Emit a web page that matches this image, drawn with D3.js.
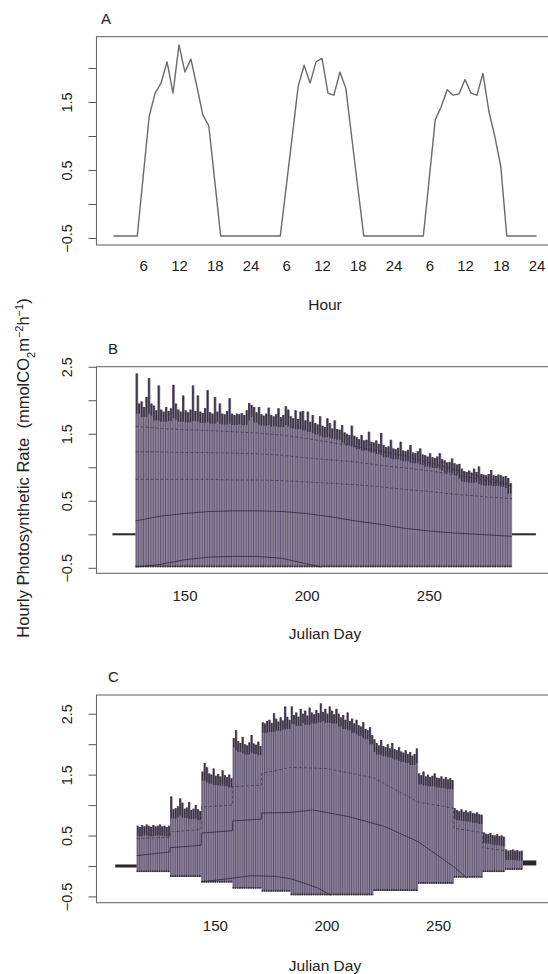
<!DOCTYPE html>
<html>
<head>
<meta charset="utf-8">
<script src="https://cdn.jsdelivr.net/npm/d3@7"></script>
<style>
  body { margin: 0; background: #fff; }
  svg { display: block; font-family: "Liberation Sans", Arial, sans-serif; }
</style>
</head>
<body>
<svg id="chart" width="548" height="974"></svg>
<script>
// Panel A: three days of hourly rate (hour 1..72)
const aRate = [
  -0.47, -0.47, -0.47, -0.47, -0.47, 0.41, 1.29, 1.63, 1.78, 2.09, 1.63, 2.34,
  1.94, 2.13, 1.73, 1.31, 1.15, 0.34, -0.47, -0.47, -0.47, -0.47, -0.47, -0.47,
  -0.47, -0.47, -0.47, -0.47, -0.47, 0.26, 0.99, 1.73, 2.04, 1.78, 2.09, 2.14,
  1.63, 1.60, 1.94, 1.70, 0.97, 0.25, -0.47, -0.47, -0.47, -0.47, -0.47, -0.47,
  -0.47, -0.47, -0.47, -0.47, -0.47, 0.38, 1.24, 1.43, 1.68, 1.60, 1.62, 1.83,
  1.63, 1.60, 1.92, 1.36, 0.99, 0.55, -0.47, -0.47, -0.47, -0.47, -0.47, -0.47
];
const aTickHours = [6, 12, 18, 24, 30, 36, 42, 48, 54, 60, 66, 72];
const aTickLabels = ["6", "12", "18", "24", "6", "12", "18", "24", "6", "12", "18", "24"];

// Panel B: daily peak rate, days 130..283, night value, off-season stretches
const bFirstDay = 130;
const bPeak = [
  2.40, 1.95, 1.98, 1.90, 2.05, 2.33, 1.95, 1.92, 1.85, 2.22,
  1.86, 1.83, 1.90, 1.84, 1.88, 2.23, 1.95, 1.86, 1.83, 2.07,
  1.85, 1.82, 1.86, 2.22, 1.84, 2.07, 1.83, 1.81, 1.88, 2.15,
  1.82, 1.80, 2.05, 1.83, 1.95, 1.80, 1.79, 1.84, 2.03, 1.80,
  1.78, 1.80, 1.79, 1.81, 1.78, 1.85, 1.96, 1.93, 1.90, 1.82,
  1.90, 1.79, 1.77, 1.80, 1.89, 1.78, 1.76, 1.79, 1.88, 1.75,
  1.78, 1.91, 1.86, 1.76, 1.73, 1.85, 1.72, 1.83, 1.84, 1.70,
  1.83, 1.68, 1.78, 1.66, 1.64, 1.76, 1.62, 1.60, 1.73, 1.66,
  1.58, 1.70, 1.57, 1.56, 1.63, 1.52, 1.50, 1.48, 1.62, 1.47,
  1.45, 1.42, 1.48, 1.40, 1.41, 1.53, 1.38, 1.37, 1.40, 1.35,
  1.51, 1.33, 1.30, 1.31, 1.41, 1.28, 1.27, 1.29, 1.38, 1.25,
  1.24, 1.26, 1.33, 1.22, 1.21, 1.24, 1.28, 1.19, 1.18, 1.16,
  1.21, 1.15, 1.14, 1.16, 1.21, 1.12, 1.10, 1.07, 1.08, 1.13,
  1.06, 1.04, 1.05, 0.98, 0.94, 0.93, 0.95, 0.92, 0.98, 0.93,
  1.01, 0.90, 0.89, 0.88, 0.90, 0.96, 0.88, 0.87, 0.89, 0.88,
  0.86, 0.87, 0.84, 0.76
];
const bNight = -0.49;
const bOffStart = [120.5, 284];
const bOffEnd = [130, 293.8];

// Panel B: hourly traces that show through the daily bars
const bTraceDays = [130, 140, 150, 160, 170, 180, 190, 200, 210, 220, 230, 240, 250, 260, 270, 284];
const bTraceMid = [0.20, 0.27, 0.31, 0.34, 0.35, 0.35, 0.34, 0.31, 0.26, 0.20, 0.15, 0.09, 0.05, 0.02, 0.00, -0.03];
const bTraceUpper = [0.82, 0.82, 0.82, 0.82, 0.81, 0.81, 0.80, 0.78, 0.76, 0.74, 0.71, 0.67, 0.64, 0.60, 0.57, 0.53];
const bTraceHigh = [1.23, 1.23, 1.22, 1.22, 1.21, 1.20, 1.18, 1.14, 1.11, 1.08, 1.03, 0.99, 0.95, 0.89, 0.83, 0.72];
const bTraceTop = [1.61, 1.58, 1.56, 1.55, 1.53, 1.51, 1.48, 1.43, 1.37, 1.31, 1.24, 1.17, 1.07, 0.97, 0.87, 0.74];
const bLowDays = [130, 140, 150, 160, 170, 180, 190, 200, 206];
const bTraceLow = [-0.49, -0.45, -0.38, -0.34, -0.33, -0.33, -0.36, -0.44, -0.49];

// Panel C: daily peak rate, days 115..287, night value per block
const cFirstDay = 115;
const cPeak = [
  0.66, 0.64, 0.67, 0.65, 0.68, 0.66, 0.64, 0.67, 0.65, 0.66, 0.68, 0.65, 0.66, 0.64, 0.66,
  1.14, 0.93, 0.95, 0.98, 1.11, 1.04, 0.94, 0.96, 1.05, 0.92, 0.94, 1.00, 0.93, 0.90,
  1.55, 1.69, 1.62, 1.52, 1.50, 1.60, 1.48, 1.51, 1.47, 1.57, 1.49, 1.46, 1.50, 1.44,
  2.10, 2.23, 2.05, 2.02, 2.12, 2.00, 1.98, 2.03, 2.15, 2.01, 1.99, 2.04, 1.97,
  2.36, 2.34, 2.38, 2.40, 2.35, 2.51, 2.42, 2.37, 2.44, 2.39, 2.62, 2.45, 2.40,
  2.62, 2.48, 2.52, 2.45, 2.58, 2.50, 2.55, 2.47, 2.60, 2.52, 2.49, 2.56, 2.51, 2.67,
  2.53, 2.58, 2.50, 2.62, 2.55, 2.49, 2.58,
  2.50, 2.44, 2.48, 2.40, 2.52, 2.38, 2.42, 2.34, 2.40, 2.31, 2.29, 2.36, 2.25, 2.23, 2.28, 2.15,
  2.08, 2.02, 1.98, 2.07, 1.97, 1.95, 2.00, 1.93, 2.02, 1.92, 1.90, 1.95, 1.88, 1.86, 1.90,
  1.84, 1.87, 1.81, 1.84, 1.93,
  1.52, 1.49, 1.55, 1.47, 1.50, 1.46, 1.48, 1.52, 1.45, 1.44, 1.47, 1.43, 1.46, 1.42, 1.44, 1.41,
  0.95, 0.92, 0.90, 0.93, 0.89, 0.91, 0.88, 0.90, 0.87, 0.86, 0.88, 0.85, 0.84,
  0.55, 0.53, 0.52, 0.54, 0.51, 0.50, 0.52, 0.49, 0.50, 0.48,
  0.27, 0.25, 0.26, 0.27, 0.25, 0.26, 0.24, 0.25
];
const cBlockStart = [115, 130, 144, 158, 171, 184, 221, 241, 257, 270, 280];
const cBlockLow = [-0.10, -0.18, -0.27, -0.37, -0.42, -0.48, -0.41, -0.29, -0.19, -0.10, -0.06];
const cOffStart = [105.4, 288];
const cOffEnd = [115, 294];
const cOffValue = [0, 0.05];

// Panel C: hourly traces
const cMainDays = [115, 129.9, 130, 143.9, 144, 157.9, 158, 170.9, 171, 184, 194, 210, 226, 241, 257, 263];
const cTraceMain = [0.17, 0.23, 0.30, 0.34, 0.54, 0.58, 0.74, 0.77, 0.87, 0.88, 0.92, 0.81, 0.65, 0.40, -0.01, -0.20];
const cLowDays = [144, 158, 166, 177, 184, 190, 196, 202];
const cTraceLow = [-0.26, -0.20, -0.16, -0.17, -0.21, -0.28, -0.36, -0.48];
const cUpperDays = [115, 129.9, 130, 143.9, 144, 157.9, 158, 170.9, 171, 184, 200, 221, 241, 256.9, 257, 269.9, 270, 280];
const cTraceUpper = [0.45, 0.47, 0.56, 0.60, 0.97, 1.00, 1.30, 1.33, 1.52, 1.62, 1.60, 1.45, 1.05, 0.95, 0.62, 0.55, 0.30, 0.25];

// Axes
const yTicks = [-0.5, 0, 0.5, 1, 1.5, 2, 2.5];
const yLabelled = [-0.5, 0.5, 1.5, 2.5];
const dayTicks = [150, 200, 250];

const Chart = {
    svg: d3.select("#chart"),
    left: 96.5,
    right: 553.5,
    ink: "#222",
    barFill: "#8e849b",
    barLine: "#5f5570",
    darkInk: "#2a2530",

    /**
     * Box, left axis with rotated labels, and the bottom labels for one panel.
     */
    drawFrame(p) {
        const x = d3.scaleLinear().domain(p.xDomain).range([this.left, this.right]);
        const y = d3.scaleLinear().domain(p.yDomain).range([p.bottom, p.top]);
        const fmt = d3.format(".1f");

        const yAxis = this.svg.append("g")
            .attr("transform", `translate(${this.left},0)`)
            .call(d3.axisLeft(y)
                .tickValues(yTicks.filter(v => v >= p.yDomain[0] && v <= p.yDomain[1]))
                .tickSize(8)
                .tickFormat(d => yLabelled.includes(d) ? fmt(d) : ""));
        yAxis.select(".domain").remove();
        yAxis.selectAll("line").attr("stroke", "#555");
        yAxis.selectAll("text")
            .attr("x", null).attr("dy", null)
            .attr("transform", "translate(-25,0) rotate(-90)")
            .attr("text-anchor", "middle")
            .attr("fill", this.ink)
            .style("font-size", "14.5px")
            .style("font-family", "'Liberation Sans', Arial, sans-serif");

        const xAxis = this.svg.append("g")
            .attr("transform", `translate(0,${p.tickY})`)
            .call(d3.axisBottom(x).tickValues(p.xTicks).tickSize(0)
                .tickFormat((d, i) => p.xLabels ? p.xLabels[i] : d));
        xAxis.select(".domain").remove();
        xAxis.selectAll("text")
            .attr("y", 0).attr("dy", null)
            .attr("fill", this.ink)
            .style("font-size", "15px")
            .style("font-family", "'Liberation Sans', Arial, sans-serif");

        this.svg.append("text")
            .attr("x", (this.left + this.right) / 2).attr("y", p.titleY)
            .attr("text-anchor", "middle").attr("fill", this.ink)
            .style("font-size", "15.5px")
            .text(p.xTitle);

        this.svg.append("text")
            .attr("x", p.letterX).attr("y", p.letterY)
            .attr("fill", this.ink).style("font-size", "15px")
            .text(p.letter);

        return { x, y };
    },

    drawBox(p) {
        this.svg.append("rect")
            .attr("x", this.left).attr("y", p.top)
            .attr("width", this.right - this.left).attr("height", p.bottom - p.top)
            .attr("fill", "none").attr("stroke", "#6b6b6b").attr("stroke-width", 1.1);
    },

    /**
     * One vertical bar per day from the night value up to the day's peak,
     * with a dark cap where the hourly lines bunch up near the peak.
     */
    drawDailyBars(x, y, days) {
        const g = this.svg.append("g");
        g.selectAll("rect.day").data(days).join("rect")
            .attr("class", "day")
            .attr("x", d => x(d.day))
            .attr("width", d => x(d.day + 1) - x(d.day) + 0.2)
            .attr("y", d => y(d.hi))
            .attr("height", d => y(d.lo) - y(d.hi))
            .attr("fill", this.barFill);

        g.selectAll("line.day").data(days).join("line")
            .attr("class", "day")
            .attr("x1", d => x(d.day) + 0.6).attr("x2", d => x(d.day) + 0.6)
            .attr("y1", d => y(d.hi)).attr("y2", d => y(d.lo))
            .attr("stroke", this.barLine).attr("stroke-width", 1.0);

        // dark caps at the top of each day
        g.selectAll("line.cap").data(days).join("line")
            .attr("class", "cap")
            .attr("x1", d => x(d.day + 0.5)).attr("x2", d => x(d.day + 0.5))
            .attr("y1", d => y(d.hi)).attr("y2", d => y(d.capLo))
            .attr("stroke", this.darkInk).attr("stroke-width", 1.4).attr("opacity", 0.8);

        // dark rim along the bottom
        g.selectAll("line.foot").data(days).join("line")
            .attr("class", "foot")
            .attr("x1", d => x(d.day)).attr("x2", d => x(d.day + 1))
            .attr("y1", d => y(d.lo) - 0.8).attr("y2", d => y(d.lo) - 0.8)
            .attr("stroke", this.darkInk).attr("stroke-width", 1.6).attr("stroke-dasharray", "1.2,0.8");
        return g;
    },

    drawTrace(x, y, days, vals, dashed) {
        const line = d3.line().x(d => x(d[0])).y(d => y(d[1]));
        this.svg.append("path")
            .datum(days.map((d, i) => [d, vals[i]]))
            .attr("d", line)
            .attr("fill", "none")
            .attr("stroke", this.darkInk)
            .attr("stroke-width", 1)
            .attr("opacity", dashed ? 0.55 : 0.75)
            .attr("stroke-dasharray", dashed ? "3,2" : null);
    },

    drawOffSeason(x, y, starts, ends, vals, width) {
        this.svg.append("g").selectAll("line").data(starts).join("line")
            .attr("x1", d => x(d))
            .attr("x2", (d, i) => x(ends[i]))
            .attr("y1", (d, i) => y(vals[i])).attr("y2", (d, i) => y(vals[i]))
            .attr("stroke", this.darkInk)
            .attr("stroke-width", (d, i) => width[i]);
    }
};

// attach cap bottoms: the dark cap reaches a bit below the lower neighbour
function withCaps(days, sameBlock) {
    return days.map((d, i) => {
        let m = d.hi;
        [i - 1, i + 1].forEach(j => {
            if (j >= 0 && j < days.length && sameBlock(d, days[j])) m = Math.min(m, days[j].hi);
        });
        return { ...d, capLo: Math.max(d.hi - 0.6, m - 0.15) };
    });
}

// ---------- Panel A ----------
const pA = { top: 36.7, bottom: 245, xDomain: [-1.84, 74.84], yDomain: [-0.603, 2.46],
    tickY: 271, titleY: 310, xTitle: "Hour", xTicks: aTickHours, xLabels: aTickLabels,
    letter: "A", letterX: 101, letterY: 24 };
const sA = Chart.drawFrame(pA);
Chart.svg.append("path")
    .datum(aRate.map((v, i) => [i + 1, v]))
    .attr("d", d3.line().x(d => sA.x(d[0])).y(d => sA.y(d[1])))
    .attr("fill", "none").attr("stroke", "#6a6a6a").attr("stroke-width", 1.4)
    .attr("stroke-linejoin", "round");
Chart.drawBox(pA);

// ---------- Panel B ----------
const pB = { top: 366.7, bottom: 573.3, xDomain: [114.0, 301.0], yDomain: [-0.582, 2.501],
    tickY: 600.5, titleY: 639, xTitle: "Julian Day", xTicks: dayTicks,
    letter: "B", letterX: 108, letterY: 354 };
const sB = Chart.drawFrame(pB);
const bDays = withCaps(bPeak.map((p, i) => ({ day: bFirstDay + i, hi: p, lo: bNight })), () => true);
Chart.drawDailyBars(sB.x, sB.y, bDays);
Chart.drawTrace(sB.x, sB.y, bLowDays, bTraceLow, false);
Chart.drawTrace(sB.x, sB.y, bTraceDays, bTraceMid, false);
Chart.drawTrace(sB.x, sB.y, bTraceDays, bTraceUpper, true);
Chart.drawTrace(sB.x, sB.y, bTraceDays, bTraceHigh, true);
Chart.drawTrace(sB.x, sB.y, bTraceDays, bTraceTop, true);
Chart.drawOffSeason(sB.x, sB.y, bOffStart, bOffEnd, [0, 0], [2, 2]);
Chart.drawBox(pB);

// ---------- Panel C ----------
const pC = { top: 695, bottom: 902.7, xDomain: [97.0, 301.7], yDomain: [-0.603, 2.808],
    tickY: 930.5, titleY: 971, xTitle: "Julian Day", xTicks: dayTicks,
    letter: "C", letterX: 108, letterY: 682 };
const sC = Chart.drawFrame(pC);
const blockOf = day => d3.bisectRight(cBlockStart, day) - 1;
const cDays = withCaps(cPeak.map((p, i) => {
    const day = cFirstDay + i;
    return { day, hi: p, lo: cBlockLow[blockOf(day)], block: blockOf(day) };
}), (a, b) => a.block === b.block);
Chart.drawDailyBars(sC.x, sC.y, cDays);
Chart.drawTrace(sC.x, sC.y, cMainDays, cTraceMain, false);
Chart.drawTrace(sC.x, sC.y, cLowDays, cTraceLow, false);
Chart.drawTrace(sC.x, sC.y, cUpperDays, cTraceUpper, true);
Chart.drawOffSeason(sC.x, sC.y, cOffStart, cOffEnd, cOffValue, [3, 5]);
Chart.drawBox(pC);

// ---------- shared y title ----------
const yTitle = Chart.svg.append("text")
    .attr("transform", "translate(29,468) rotate(-90)")
    .attr("text-anchor", "middle")
    .attr("fill", Chart.ink)
    .style("font-size", "16.5px");
yTitle.append("tspan").text("Hourly Photosynthetic Rate\u00a0\u00a0(mmolCO");
yTitle.append("tspan").attr("baseline-shift", "sub").style("font-size", "11px").text("2");
yTitle.append("tspan").text("m");
yTitle.append("tspan").attr("baseline-shift", "super").style("font-size", "11px").text("\u22122");
yTitle.append("tspan").text("h");
yTitle.append("tspan").attr("baseline-shift", "super").style("font-size", "11px").text("\u22121");
yTitle.append("tspan").text(")");
</script>
</body>
</html>
